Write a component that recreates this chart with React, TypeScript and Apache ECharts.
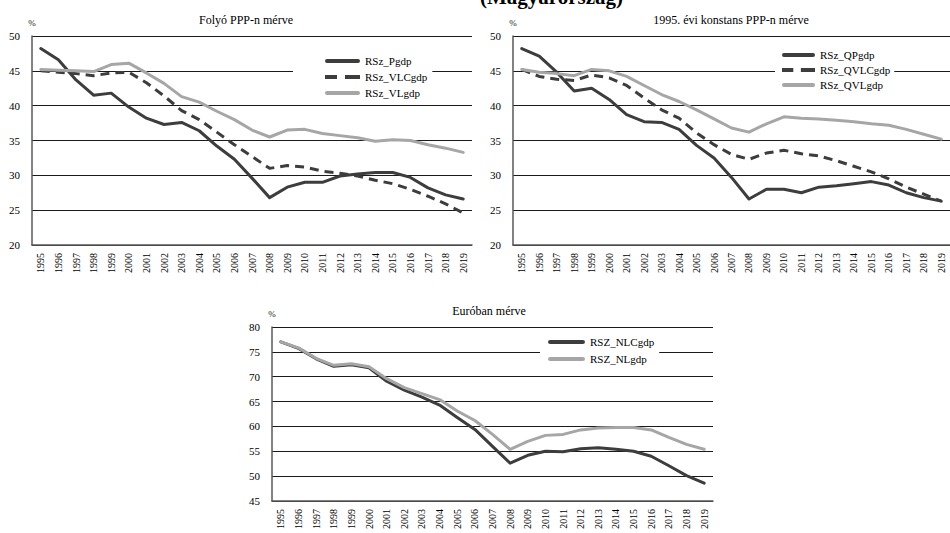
import React, { useEffect, useRef } from "react";
import * as echarts from "echarts";

const years = [
  "1995", "1996", "1997", "1998", "1999", "2000", "2001", "2002", "2003", "2004",
  "2005", "2006", "2007", "2008", "2009", "2010", "2011", "2012", "2013", "2014",
  "2015", "2016", "2017", "2018", "2019",
];

const rszPgdp = [48.2, 46.6, 43.7, 41.5, 41.8, 39.8, 38.2, 37.3, 37.6, 36.4, 34.2, 32.3, 29.6, 26.8, 28.3, 29.0, 29.0, 29.9, 30.2, 30.4, 30.4, 29.7, 28.2, 27.2, 26.6];
const rszVLCgdp = [45.0, 44.8, 44.6, 44.3, 44.7, 44.8, 43.3, 41.4, 39.3, 38.0, 36.2, 34.4, 32.7, 31.0, 31.4, 31.2, 30.6, 30.3, 29.9, 29.3, 28.8, 28.0, 27.0, 25.9, 24.6];
const rszVLgdp = [45.2, 45.1, 45.0, 44.9, 45.9, 46.1, 44.7, 43.2, 41.3, 40.5, 39.2, 38.0, 36.5, 35.5, 36.5, 36.6, 36.0, 35.7, 35.4, 34.9, 35.1, 35.0, 34.4, 33.9, 33.3];

const rszQPgdp = [48.2, 47.1, 44.8, 42.1, 42.5, 40.9, 38.7, 37.7, 37.6, 36.6, 34.3, 32.5, 29.7, 26.6, 28.0, 28.0, 27.5, 28.3, 28.5, 28.8, 29.1, 28.6, 27.5, 26.8, 26.3];
const rszQVLCgdp = [45.2, 44.2, 43.8, 43.6, 44.4, 44.0, 42.9, 41.1, 39.4, 38.2, 36.1, 34.4, 33.0, 32.3, 33.2, 33.6, 33.1, 32.8, 32.1, 31.3, 30.5, 29.5, 28.3, 27.3, 26.3];
const rszQVLgdp = [45.2, 44.8, 44.6, 44.3, 45.2, 45.0, 44.2, 42.9, 41.6, 40.6, 39.4, 38.1, 36.8, 36.2, 37.4, 38.4, 38.2, 38.1, 37.9, 37.7, 37.4, 37.2, 36.6, 35.9, 35.2];

const rszNLCgdp = [77.0, 75.7, 73.6, 72.1, 72.4, 71.8, 69.1, 67.3, 65.9, 64.3, 61.8, 59.4, 56.0, 52.6, 54.2, 55.0, 54.9, 55.5, 55.7, 55.4, 55.0, 54.0, 52.1, 50.1, 48.6];
const rszNLgdp = [77.0, 75.8, 73.7, 72.3, 72.6, 72.0, 69.6, 67.8, 66.6, 65.4, 63.1, 61.2, 58.4, 55.4, 57.0, 58.2, 58.4, 59.3, 59.7, 59.8, 59.8, 59.3, 57.8, 56.4, 55.4];

const titles = ["Folyó PPP-n mérve", "1995. évi konstans PPP-n mérve", "Euróban mérve"];
const headerText = "(Magyarország)";

const FONT = "'Liberation Serif', 'Times New Roman', serif";
const DARK = "#3d3d3d";
const GRAY = "#a6a6a6";

const SOLID_ICON = "path://M2,0h31a2,2 0 0 1 0,4h-31a2,2 0 0 1 0,-4z";
const DASH_ICON = "path://M0,0h12v4h-12zM20,0h15v4h-15z";

export default function App() {
  const ref = useRef<HTMLDivElement>(null);

  useEffect(() => {
    if (!ref.current) return;
    const chart = echarts.init(ref.current, undefined, { renderer: "svg" });

    const grids = [
      { left: 32, top: 36, width: 440, height: 209 },
      { left: 513, top: 36, width: 441, height: 209 },
      { left: 272, top: 327, width: 441, height: 174 },
    ];

    const xAxis = grids.map((_, i) => ({
      type: "category",
      gridIndex: i,
      data: years,
      boundaryGap: true,
      axisLine: { show: true, lineStyle: { color: "#595959", width: 1.5 } },
      axisTick: { show: false },
      axisLabel: {
        rotate: 90,
        interval: 0,
        margin: 8,
        fontFamily: FONT,
        fontSize: 10,
        color: "#000",
      },
    }));

    const yRanges = [
      [20, 50],
      [20, 50],
      [45, 80],
    ];

    const yAxis = grids.map((_, i) => ({
      type: "value",
      gridIndex: i,
      min: yRanges[i][0],
      max: yRanges[i][1],
      interval: 5,
      name: "%",
      nameLocation: "end",
      nameGap: 9,
      nameTextStyle: { fontFamily: FONT, fontSize: 9, color: "#222" },
      axisLine: { show: true, lineStyle: { color: "#595959", width: 1.5 } },
      axisTick: { show: false },
      axisLabel: { margin: 12, fontFamily: FONT, fontSize: 11, color: "#000" },
      splitLine: { show: true, lineStyle: { color: "#1a1a1a", width: 1 } },
    }));

    const mk = (name: string, data: number[], idx: number, color: string, dashed = false) => ({
      name,
      type: "line",
      xAxisIndex: idx,
      yAxisIndex: idx,
      data,
      symbol: "none",
      lineStyle: {
        color,
        width: 3,
        type: dashed ? [9, 6] : "solid",
        join: "round",
        cap: dashed ? "butt" : "round",
      },
      itemStyle: { color },
      emphasis: { disabled: true },
    });

    const series = [
      mk("RSz_Pgdp", rszPgdp, 0, DARK),
      mk("RSz_VLCgdp", rszVLCgdp, 0, DARK, true),
      mk("RSz_VLgdp", rszVLgdp, 0, GRAY),
      mk("RSz_QPgdp", rszQPgdp, 1, DARK),
      mk("RSz_QVLCgdp", rszQVLCgdp, 1, DARK, true),
      mk("RSz_QVLgdp", rszQVLgdp, 1, GRAY),
      mk("RSZ_NLCgdp", rszNLCgdp, 2, DARK),
      mk("RSZ_NLgdp", rszNLgdp, 2, GRAY),
    ];

    const legendBase = {
      orient: "vertical",
      backgroundColor: "#fff",
      itemHeight: 4,
      selectedMode: false,
      symbolKeepAspect: false,
      textStyle: { fontFamily: FONT, fontSize: 11, color: "#000", lineHeight: 12 },
    };

    const option: any = {
      animation: false,
      textStyle: { fontFamily: FONT },
      title: [
        { text: titles[0], left: 246, top: 14, textAlign: "center", padding: 0,
          textStyle: { fontFamily: FONT, fontSize: 12, fontWeight: "normal", color: "#000" } },
        { text: titles[1], left: 731, top: 14, textAlign: "center", padding: 0,
          textStyle: { fontFamily: FONT, fontSize: 12, fontWeight: "normal", color: "#000" } },
        { text: titles[2], left: 489, top: 305, textAlign: "center", padding: 0,
          textStyle: { fontFamily: FONT, fontSize: 12, fontWeight: "normal", color: "#000" } },
      ],
      legend: [
        { ...legendBase,
          data: [
            { name: "RSz_Pgdp", icon: SOLID_ICON },
            { name: "RSz_VLCgdp", icon: DASH_ICON },
            { name: "RSz_VLgdp", icon: SOLID_ICON },
          ],
          left: 293, top: 50, itemWidth: 35, itemGap: 4, padding: [5, 5, 4, 32] },
        { ...legendBase,
          data: [
            { name: "RSz_QPgdp", icon: SOLID_ICON },
            { name: "RSz_QVLCgdp", icon: DASH_ICON },
            { name: "RSz_QVLgdp", icon: SOLID_ICON },
          ],
          left: 775, top: 43, itemWidth: 33, itemGap: 3, padding: [6, 4, 4, 7] },
        { ...legendBase,
          data: [
            { name: "RSZ_NLCgdp", icon: SOLID_ICON },
            { name: "RSZ_NLgdp", icon: SOLID_ICON },
          ],
          left: 540, top: 333, itemWidth: 37, itemGap: 5, padding: [3, 5, 3, 8] },
      ],
      grid: grids,
      xAxis,
      yAxis,
      series,
      graphic: [
        {
          type: "text",
          left: 480,
          top: -14,
          style: {
            text: headerText,
            font: `bold 21px ${FONT}`,
            fill: "#000",
          },
        },
      ],
    };

    chart.setOption(option);
    return () => chart.dispose();
  }, []);

  return (
    <div
      ref={ref}
      style={{ position: "fixed", left: 0, top: 0, width: 950, height: 533, background: "#fff" }}
    />
  );
}
